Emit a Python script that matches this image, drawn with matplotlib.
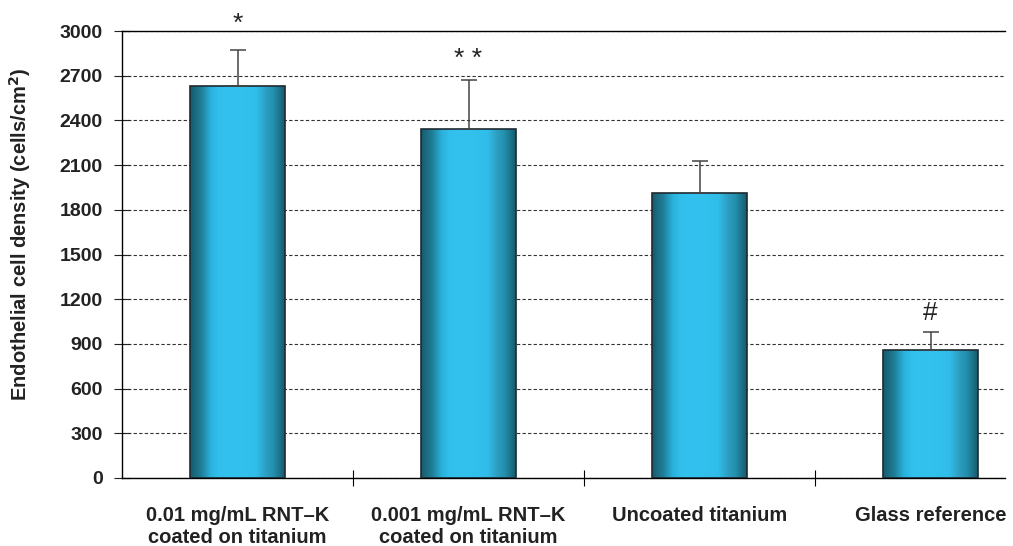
import numpy as np
import matplotlib.pyplot as plt
from matplotlib.colors import LinearSegmentedColormap

plt.rcParams['font.family'] = ['Liberation Sans', 'DejaVu Sans']

categories = ["0.01 mg/mL RNT\u2013K\ncoated on titanium",
              "0.001 mg/mL RNT\u2013K\ncoated on titanium",
              "Uncoated titanium",
              "Glass reference"]
density = [2630, 2340, 1910, 862]
errors = [240, 330, 215, 115]
marks = ["*", "* *", "", "#"]
mark_offsets = [19, 15, 0, 14]  # points above error cap

fig = plt.figure(figsize=(10.13, 5.46), dpi=100)
ax = fig.add_axes([122 / 1013, 1 - 478 / 546, (1005 - 122) / 1013, (478 - 31) / 546])

x = np.arange(len(categories))
width = 0.41
bars = ax.bar(x, density, width, color='none', edgecolor='#1f2a30', linewidth=1.2, zorder=3)

# horizontal shading of each bar: dark edges, bright cyan body
shade = LinearSegmentedColormap.from_list('shade', [
    (0.0, '#175a6c'), (0.12, '#1f7f98'), (0.22, '#2ab2dc'), (0.3, '#32bfec'),
    (0.45, '#33c2ef'), (0.7, '#30bdea'), (0.8, '#2d9fc2'), (0.88, '#2390ae'),
    (1.0, '#175a6c')])
grad = np.linspace(0, 1, 256).reshape(1, -1)
for b in bars:
    x0, w, h = b.get_x(), b.get_width(), b.get_height()
    im = ax.imshow(grad, cmap=shade, aspect='auto', extent=(x0, x0 + w, 0, h), zorder=2)
    im.set_clip_path(b)

ax.errorbar(x, density, yerr=[np.zeros(len(errors)), errors], fmt='none',
            ecolor='#444444', elinewidth=1.1, capsize=6, capthick=1.1, zorder=4)

for xi, d, e, m, off in zip(x, density, errors, marks, mark_offsets):
    if m:
        ax.annotate(m, (xi, d + e), xytext=(0, off), textcoords='offset points',
                    ha='center', va='center', fontsize=19, color='#222222',
                    annotation_clip=False)

ax.set_xlim(-0.5, -0.5 + (1005 - 122) / 231)
ax.set_ylim(0, 3000)
ax.set_yticks(np.arange(0, 3001, 300))
ax.set_yticklabels([str(v) for v in range(0, 3001, 300)], fontweight='bold', fontsize=14)
ax.yaxis.grid(True, linestyle=(0, (3, 2)), color='#333333', linewidth=0.8)
ax.set_axisbelow(True)

ax.set_xticks(x[:-1] + 0.5)
ax.set_xticklabels([])
ax.tick_params(axis='x', direction='inout', length=12, width=0.8)
ax.tick_params(axis='y', direction='inout', length=12, width=0.8, pad=8, colors='#222222')
for xi, lab in zip(x, categories):
    ax.text(xi, -0.062, lab, transform=ax.get_xaxis_transform(), ha='center', va='top',
            fontsize=14.5, fontweight='bold', color='#222222', linespacing=1.2)

ax.set_ylabel("Endothelial cell density (cells/cm$^\\mathbf{2}$)", fontsize=14.5,
              fontweight='bold', color='#222222')
ax.yaxis.set_label_coords(-0.101, 0.546)
ax.spines['right'].set_visible(False)
for s in ['left', 'bottom', 'top']:
    ax.spines[s].set_linewidth(1.0)

fig.savefig("out.png", dpi=100)
